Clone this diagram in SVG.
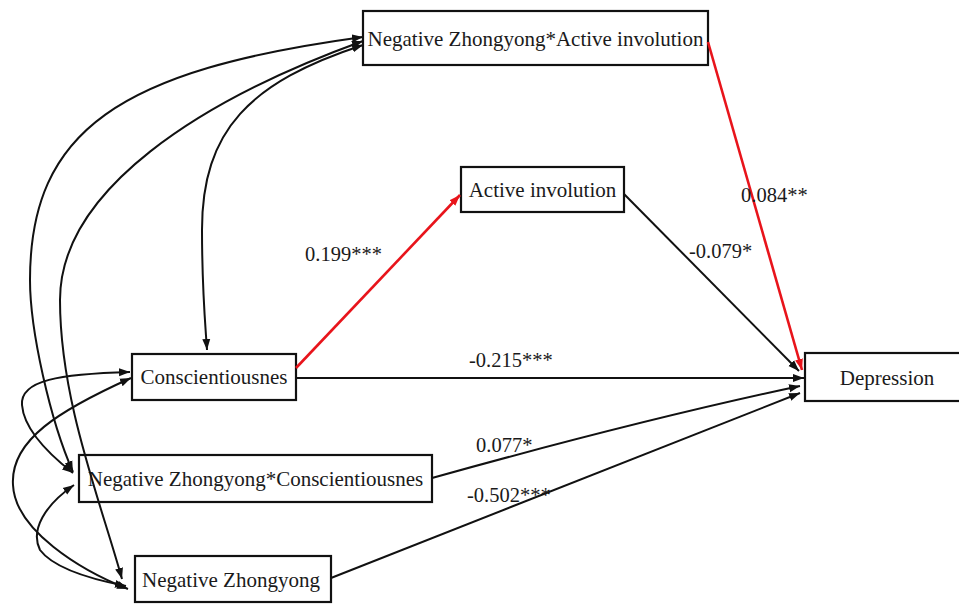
<svg xmlns="http://www.w3.org/2000/svg" width="959" height="604" viewBox="0 0 959 604">
<style>
.box{fill:#fff;stroke:#111;stroke-width:2.2}
.t{font-family:"Liberation Serif","Times New Roman",serif;font-size:21px;fill:#1a1a1a}
.lab{font-family:"Liberation Serif","Times New Roman",serif;font-size:20.5px;fill:#1a1a1a}
.k{fill:none;stroke:#111;stroke-width:2}
.r{fill:none;stroke:#e8141b;stroke-width:2.6}
</style>
<defs>
<marker id="ak" markerUnits="userSpaceOnUse" markerWidth="12" markerHeight="10" viewBox="0 0 12 10" refX="11" refY="5" orient="auto-start-reverse"><path d="M0,1 L11,5 L0,9 Z" fill="#111"/></marker>
<marker id="ar" markerUnits="userSpaceOnUse" markerWidth="12" markerHeight="10" viewBox="0 0 12 10" refX="11" refY="5" orient="auto-start-reverse"><path d="M0,1 L11,5 L0,9 Z" fill="#e8141b"/></marker>
</defs>
<rect width="959" height="604" fill="#fff"/>
<g id="n_nzai"><rect class="box" x="363" y="11" width="345" height="54"/><text class="t" x="535.5" y="46" text-anchor="middle">Negative Zhongyong*Active involution</text></g>
<g id="n_ai"><rect class="box" x="461" y="167" width="163" height="45"/><text class="t" x="542.5" y="197" text-anchor="middle">Active involution</text></g>
<g id="n_c"><rect class="box" x="132" y="354" width="164" height="46"/><text class="t" x="214" y="384" text-anchor="middle">Conscientiousnes</text></g>
<g id="n_nzc"><rect class="box" x="79" y="455" width="353" height="47"/><text class="t" x="255.5" y="486" text-anchor="middle">Negative Zhongyong*Conscientiousnes</text></g>
<g id="n_nz"><rect class="box" x="135" y="556" width="196" height="46"/><text class="t" x="231" y="587" text-anchor="middle">Negative Zhongyong</text></g>
<g id="n_dep"><rect class="box" x="805" y="353" width="170" height="48"/><text class="t" x="887" y="385" text-anchor="middle">Depression</text></g>
<g id="connectors">
<path class="r" d="M296,368 L460,195" marker-end="url(#ar)"/>
<path class="r" d="M708,42 L802,370" marker-end="url(#ar)"/>
<path class="k" d="M624,194 L799,371" marker-end="url(#ak)"/>
<path class="k" d="M296,378 L804,378" marker-end="url(#ak)"/>
<path class="k" d="M432,478 Q640,420 800,386" marker-end="url(#ak)"/>
<path class="k" d="M331,578 L800,393" marker-end="url(#ak)"/>
<path class="k" d="M363,37 C120,70 30,130 30,280 C30,330 50,420 73,472" marker-start="url(#ak)" marker-end="url(#ak)"/>
<path class="k" d="M363,41 C200,100 60,190 60,300 C60,400 100,500 122,579" marker-start="url(#ak)" marker-end="url(#ak)"/>
<path class="k" d="M363,45 C250,82 202,130 202,230 C202,290 205,320 207,350" marker-start="url(#ak)" marker-end="url(#ak)"/>
<path class="k" d="M130,372 C60,374 20,380 22,405 C24,430 50,455 73,473" marker-start="url(#ak)" marker-end="url(#ak)"/>
<path class="k" d="M131,378 C60,410 10,440 13,485 C15,530 80,570 128,589" marker-start="url(#ak)" marker-end="url(#ak)"/>
<path class="k" d="M74,485 C45,505 30,530 40,550 C55,570 95,580 126,586" marker-start="url(#ak)" marker-end="url(#ak)"/>
</g>
<g id="lbls">
<text class="lab" x="305" y="261">0.199***</text>
<text class="lab" x="741" y="202">0.084**</text>
<text class="lab" x="689" y="258">-0.079*</text>
<text class="lab" x="469" y="367">-0.215***</text>
<text class="lab" x="476" y="452">0.077*</text>
<text class="lab" x="467" y="502">-0.502***</text>
</g>
</svg>
